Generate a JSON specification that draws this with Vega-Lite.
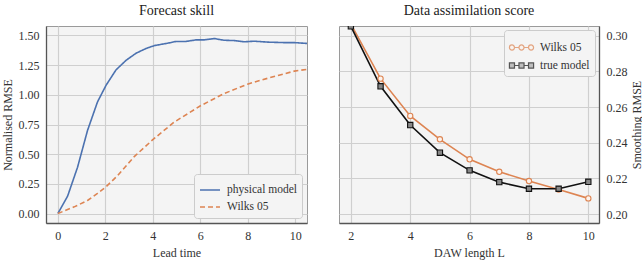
{
  "$schema": "https://vega.github.io/schema/vega-lite/v6.json",
  "padding": {"left": 0, "top": 3, "right": 5, "bottom": 5},
  "background": "white",
  "spacing": 30,
  "resolve": {
    "scale": {"color": "independent", "strokeDash": "independent", "shape": "independent", "stroke": "independent", "fill": "independent"},
    "legend": {"color": "independent", "strokeDash": "independent", "shape": "independent", "stroke": "independent", "fill": "independent"}
  },
  "config": {
    "font": "Liberation Serif",
    "view": {"fill": "#f4f4f4", "stroke": "#9a9a9a", "strokeWidth": 1},
    "axis": {
      "labelFont": "Liberation Serif", "labelFontSize": 12, "labelColor": "#333",
      "titleFont": "Liberation Serif", "titleFontSize": 12, "titleFontWeight": "normal", "titleColor": "#333",
      "gridColor": "#cfcfcf", "gridWidth": 1.2, "ticks": false, "labelPadding": 7,
      "domainColor": "#555", "domainWidth": 1.3
    },
    "title": {"font": "Liberation Serif", "fontSize": 14, "fontWeight": "normal", "color": "#222", "offset": 8},
    "legend": {
      "labelFont": "Liberation Serif", "labelFontSize": 11.5, "labelColor": "#333",
      "fillColor": "#f4f4f4", "strokeColor": "#cccccc", "padding": 5, "cornerRadius": 3,
      "title": null, "rowPadding": 0
    }
  },
  "hconcat": [
    {
      "title": "Forecast skill",
      "width": 261,
      "height": 197,
      "data": {"values": [
        {"t": 0, "v": 0, "s": "physical model"},
        {"t": 0.41, "v": 0.146, "s": "physical model"},
        {"t": 0.83, "v": 0.39, "s": "physical model"},
        {"t": 1.25, "v": 0.70, "s": "physical model"},
        {"t": 1.67, "v": 0.94, "s": "physical model"},
        {"t": 2.03, "v": 1.08, "s": "physical model"},
        {"t": 2.45, "v": 1.21, "s": "physical model"},
        {"t": 2.87, "v": 1.29, "s": "physical model"},
        {"t": 3.29, "v": 1.35, "s": "physical model"},
        {"t": 3.71, "v": 1.39, "s": "physical model"},
        {"t": 4.07, "v": 1.415, "s": "physical model"},
        {"t": 4.63, "v": 1.435, "s": "physical model"},
        {"t": 4.98, "v": 1.45, "s": "physical model"},
        {"t": 5.4, "v": 1.45, "s": "physical model"},
        {"t": 5.82, "v": 1.463, "s": "physical model"},
        {"t": 6.17, "v": 1.463, "s": "physical model"},
        {"t": 6.6, "v": 1.474, "s": "physical model"},
        {"t": 7.0, "v": 1.46, "s": "physical model"},
        {"t": 7.44, "v": 1.457, "s": "physical model"},
        {"t": 7.86, "v": 1.447, "s": "physical model"},
        {"t": 8.28, "v": 1.452, "s": "physical model"},
        {"t": 8.85, "v": 1.444, "s": "physical model"},
        {"t": 9.55, "v": 1.44, "s": "physical model"},
        {"t": 9.97, "v": 1.44, "s": "physical model"},
        {"t": 10.5, "v": 1.433, "s": "physical model"},
        {"t": 0, "v": 0, "s": "Wilks 05"},
        {"t": 0.69, "v": 0.056, "s": "Wilks 05"},
        {"t": 1.25, "v": 0.11, "s": "Wilks 05"},
        {"t": 1.67, "v": 0.17, "s": "Wilks 05"},
        {"t": 2.03, "v": 0.225, "s": "Wilks 05"},
        {"t": 2.52, "v": 0.32, "s": "Wilks 05"},
        {"t": 3.22, "v": 0.48, "s": "Wilks 05"},
        {"t": 3.99, "v": 0.62, "s": "Wilks 05"},
        {"t": 4.9, "v": 0.77, "s": "Wilks 05"},
        {"t": 6.03, "v": 0.91, "s": "Wilks 05"},
        {"t": 7.0, "v": 1.01, "s": "Wilks 05"},
        {"t": 7.99, "v": 1.09, "s": "Wilks 05"},
        {"t": 8.85, "v": 1.14, "s": "Wilks 05"},
        {"t": 9.97, "v": 1.20, "s": "Wilks 05"},
        {"t": 10.5, "v": 1.215, "s": "Wilks 05"}
      ]},
      "mark": {"type": "line", "strokeWidth": 1.6, "clip": true},
      "encoding": {
        "x": {"field": "t", "type": "quantitative", "title": "Lead time",
              "scale": {"domain": [-0.5, 10.5], "nice": false, "zero": false},
              "axis": {"values": [0, 2, 4, 6, 8, 10], "titlePadding": 6}},
        "y": {"field": "v", "type": "quantitative", "title": "Normalised RMSE",
              "scale": {"domain": [-0.08, 1.58], "nice": false, "zero": false},
              "axis": {"values": [0, 0.25, 0.5, 0.75, 1.0, 1.25, 1.5], "format": ".2f", "titlePadding": 4}},
        "color": {"field": "s", "type": "nominal",
                  "scale": {"domain": ["physical model", "Wilks 05"], "range": ["#4c72b0", "#dd8452"]},
                  "legend": {"orient": "bottom-right", "offset": 5, "symbolType": "stroke", "symbolSize": 400, "symbolStrokeWidth": 1.6, "labelOffset": 6}},
        "strokeDash": {"field": "s", "type": "nominal",
                  "scale": {"domain": ["physical model", "Wilks 05"], "range": [[1, 0], [5, 3]]}}
      }
    },
    {
      "title": "Data assimilation score",
      "width": 260,
      "height": 197,
      "data": {"values": [
        {"L": 2, "r": 0.3065, "s": "Wilks 05"},
        {"L": 3, "r": 0.2759, "s": "Wilks 05"},
        {"L": 4, "r": 0.2550, "s": "Wilks 05"},
        {"L": 5, "r": 0.2419, "s": "Wilks 05"},
        {"L": 6, "r": 0.2307, "s": "Wilks 05"},
        {"L": 7, "r": 0.2237, "s": "Wilks 05"},
        {"L": 8, "r": 0.2185, "s": "Wilks 05"},
        {"L": 9, "r": 0.2138, "s": "Wilks 05"},
        {"L": 10, "r": 0.2088, "s": "Wilks 05"},
        {"L": 2, "r": 0.3052, "s": "true model"},
        {"L": 3, "r": 0.2716, "s": "true model"},
        {"L": 4, "r": 0.2499, "s": "true model"},
        {"L": 5, "r": 0.2344, "s": "true model"},
        {"L": 6, "r": 0.2245, "s": "true model"},
        {"L": 7, "r": 0.2179, "s": "true model"},
        {"L": 8, "r": 0.2142, "s": "true model"},
        {"L": 9, "r": 0.2142, "s": "true model"},
        {"L": 10, "r": 0.2181, "s": "true model"}
      ]},
      "encoding": {
        "x": {"field": "L", "type": "quantitative", "title": "DAW length L",
              "scale": {"domain": [1.6, 10.36], "nice": false, "zero": false},
              "axis": {"values": [2, 4, 6, 8, 10], "titlePadding": 6}},
        "y": {"field": "r", "type": "quantitative", "title": "Smoothing RMSE",
              "scale": {"domain": [0.195, 0.3054], "nice": false, "zero": false},
              "axis": {"orient": "right", "values": [0.2, 0.22, 0.24, 0.26, 0.28, 0.3], "format": ".2f", "titleAngle": -90, "titleBaseline": "top", "titlePadding": 4}}
      },
      "layer": [
        {
          "transform": [{"filter": "datum.s === 'Wilks 05'"}],
          "mark": {"type": "line", "strokeWidth": 1.6, "color": "#dd8452", "clip": true}
        },
        {
          "transform": [{"filter": "datum.s === 'true model'"}],
          "mark": {"type": "line", "strokeWidth": 1.6, "color": "#111111", "clip": true}
        },
        {
          "transform": [{"filter": "datum.s === 'Wilks 05'"}],
          "mark": {"type": "point", "shape": "circle", "filled": false, "size": 28, "strokeWidth": 1.1, "stroke": "#dd8452", "fill": "#fdf3ec", "opacity": 1, "clip": true}
        },
        {
          "transform": [{"filter": "datum.s === 'true model'"}],
          "mark": {"type": "point", "shape": "square", "filled": false, "size": 28, "strokeWidth": 1.1, "stroke": "#111111", "fill": "#888888", "opacity": 1, "clip": true}
        },
        {
          "mark": {"type": "point", "filled": false, "size": 0, "strokeWidth": 1.2, "clip": true},
          "encoding": {
            "shape": {"field": "s", "type": "nominal",
                      "scale": {"domain": ["Wilks 05", "true model"], "range": [
                        "M-0.61,0 A0.22,0.22 0 1,0 -1.05,0 A0.22,0.22 0 1,0 -0.61,0 Z M0.22,0 A0.22,0.22 0 1,0 -0.22,0 A0.22,0.22 0 1,0 0.22,0 Z M1.05,0 A0.22,0.22 0 1,0 0.61,0 A0.22,0.22 0 1,0 1.05,0 Z M-0.61,0 H-0.22 M0.22,0 H0.61",
                        "M-1.05,-0.22 H-0.61 V0.22 H-1.05 Z M-0.22,-0.22 H0.22 V0.22 H-0.22 Z M0.61,-0.22 H1.05 V0.22 H0.61 Z M-0.61,0 H-0.22 M0.22,0 H0.61"
                      ]},
                      "legend": {"orient": "top-right", "offset": 4, "symbolSize": 529, "symbolStrokeWidth": 1.2, "labelOffset": 6,
                        "encode": {"symbols": {"update": {
                          "stroke": {"signal": "datum.value === 'Wilks 05' ? '#dd8452' : '#111111'"},
                          "fill": {"signal": "datum.value === 'Wilks 05' ? '#fdf3ec' : '#888888'"},
                          "strokeWidth": {"value": 1.2},
                          "opacity": {"value": 1}
                        }}}}},
            "stroke": {"field": "s", "type": "nominal",
                      "scale": {"domain": ["Wilks 05", "true model"], "range": ["#dd8452", "#111111"]}},
            "fill": {"field": "s", "type": "nominal",
                      "scale": {"domain": ["Wilks 05", "true model"], "range": ["#fdf3ec", "#888888"]}}
          }
        }
      ]
    }
  ]
}
